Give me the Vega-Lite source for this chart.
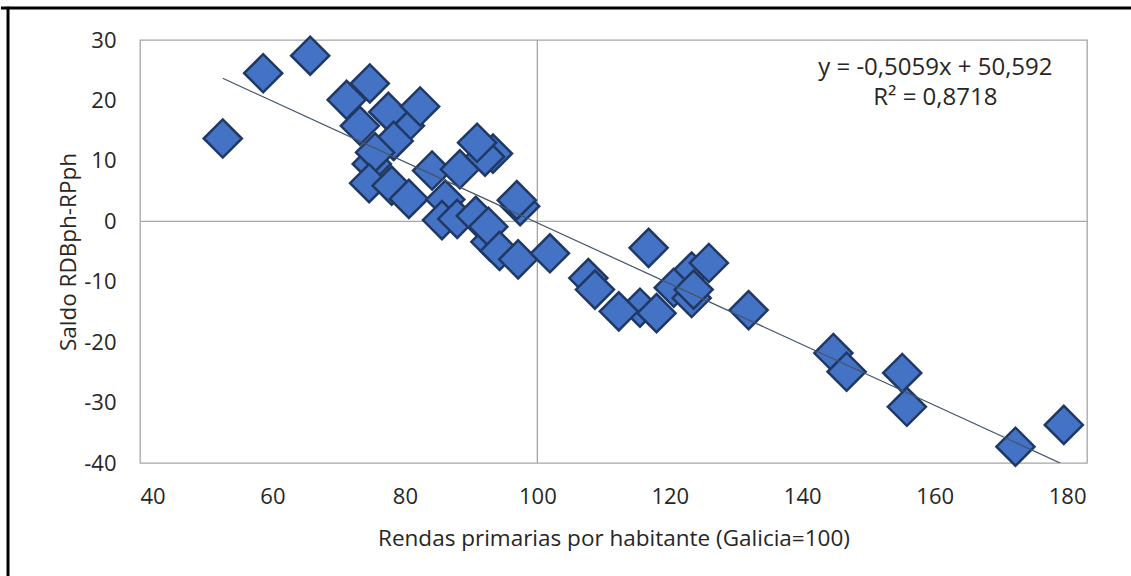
{
  "$schema": "https://vega.github.io/schema/vega-lite/v6.json",
  "width": 947,
  "height": 423,
  "autosize": {"type": "none"},
  "padding": {"left": 140, "top": 40, "right": 44, "bottom": 113},
  "background": "white",
  "config": {
    "view": {"stroke": "#a6a6a6", "strokeWidth": 1.3},
    "font": "Open Sans",
    "axis": {"grid": false, "ticks": false, "domain": false, "labelFont": "Open Sans", "labelFontSize": 22, "labelColor": "#262626", "titleFont": "Open Sans", "titleFontSize": 22.5, "titleFontWeight": "normal", "titleColor": "#262626"}
  },
  "datasets": {
    "pts": [
      {"x": 80.0, "y": 15.8}, {"x": 97.4, "y": 2.5}, {"x": 92.9, "y": -3.4},
      {"x": 52.5, "y": 13.7}, {"x": 58.6, "y": 24.5}, {"x": 65.7, "y": 27.4}, {"x": 74.7, "y": 22.8},
      {"x": 71.2, "y": 20.1}, {"x": 77.5, "y": 18.1}, {"x": 82.3, "y": 19.0}, {"x": 73.2, "y": 15.8},
      {"x": 78.3, "y": 13.3}, {"x": 75.0, "y": 9.5}, {"x": 75.5, "y": 11.4},
      {"x": 74.6, "y": 6.3}, {"x": 78.0, "y": 5.9}, {"x": 80.6, "y": 3.7}, {"x": 84.1, "y": 8.4},
      {"x": 88.3, "y": 8.6}, {"x": 93.3, "y": 11.2}, {"x": 92.1, "y": 10.7}, {"x": 90.9, "y": 13.0},
      {"x": 86.1, "y": 3.6}, {"x": 96.9, "y": 3.5}, {"x": 85.6, "y": 0.2},
      {"x": 87.9, "y": 0.4}, {"x": 90.7, "y": 0.9}, {"x": 92.6, "y": -0.9},
      {"x": 94.3, "y": -4.9}, {"x": 97.1, "y": -6.3}, {"x": 101.9, "y": -5.3}, {"x": 116.8, "y": -4.4},
      {"x": 107.7, "y": -9.4}, {"x": 108.7, "y": -11.3}, {"x": 115.5, "y": -14.3}, {"x": 112.3, "y": -14.9},
      {"x": 118.0, "y": -15.2}, {"x": 123.3, "y": -8.3}, {"x": 125.9, "y": -6.9}, {"x": 120.6, "y": -11.0},
      {"x": 123.3, "y": -12.7}, {"x": 123.6, "y": -11.3}, {"x": 131.9, "y": -14.7}, {"x": 144.7, "y": -21.8},
      {"x": 146.7, "y": -24.9}, {"x": 155.1, "y": -25.1}, {"x": 155.8, "y": -30.7}, {"x": 172.2, "y": -37.3},
      {"x": 179.5, "y": -33.7}
    ]
  },
  "layer": [
    {
      "data": {"values": [{}]},
      "mark": {"type": "rule", "color": "#a6a6a6", "strokeWidth": 1.3},
      "encoding": {"y": {"datum": 0, "type": "quantitative", "scale": {"domain": [-40, 30]}}}
    },
    {
      "data": {"values": [{}]},
      "mark": {"type": "rule", "color": "#a6a6a6", "strokeWidth": 1.3},
      "encoding": {"x": {"datum": 100, "type": "quantitative", "scale": {"domain": [40, 183]}}}
    },
    {
      "data": {"name": "pts"},
      "mark": {"type": "point", "shape": "diamond", "filled": true, "fill": "#4472c4", "stroke": "#1f3864", "strokeWidth": 2.5, "size": 1450, "opacity": 1},
      "encoding": {
        "x": {"field": "x", "type": "quantitative", "scale": {"domain": [40, 183], "nice": false, "zero": false}, "axis": {"values": [40, 60, 80, 100, 120, 140, 160, 180], "labelPadding": 23, "title": "Rendas primarias por habitante (Galicia=100)", "titlePadding": 20}},
        "y": {"field": "y", "type": "quantitative", "scale": {"domain": [-40, 30], "nice": false, "zero": false}, "axis": {"values": [-40, -30, -20, -10, 0, 10, 20, 30], "labelExpr": "'' + datum.value", "labelPadding": 24, "title": "Saldo RDBph-RPph", "titlePadding": 3}}
      }
    },
    {
      "data": {"name": "pts"},
      "transform": [{"regression": "y", "on": "x"}],
      "mark": {"type": "line", "color": "#44546a", "strokeWidth": 1.2, "clip": true},
      "encoding": {
        "x": {"field": "x", "type": "quantitative"},
        "y": {"field": "y", "type": "quantitative"}
      }
    },
    {
      "data": {"values": [{"t": "y = -0,5059x + 50,592", "px": 160.1, "py": 25.4}, {"t": "R² = 0,8718", "px": 160.1, "py": 20.4}]},
      "mark": {"type": "text", "fontSize": 24, "font": "Open Sans", "fill": "#262626", "align": "center", "baseline": "middle"},
      "encoding": {
        "x": {"field": "px", "type": "quantitative"},
        "y": {"field": "py", "type": "quantitative"},
        "text": {"field": "t"}
      }
    },
    {
      "data": {"values": [{}]},
      "mark": {"type": "rule", "color": "black", "strokeWidth": 3, "clip": false},
      "encoding": {
        "x": {"datum": 19, "type": "quantitative"},
        "x2": {"datum": 192},
        "y": {"datum": 35.3, "type": "quantitative"}
      }
    },
    {
      "data": {"values": [{}]},
      "mark": {"type": "rule", "color": "black", "strokeWidth": 3, "clip": false},
      "encoding": {
        "x": {"datum": 20.07, "type": "quantitative"},
        "y": {"datum": 35.5, "type": "quantitative"},
        "y2": {"datum": -62}
      }
    }
  ]
}
